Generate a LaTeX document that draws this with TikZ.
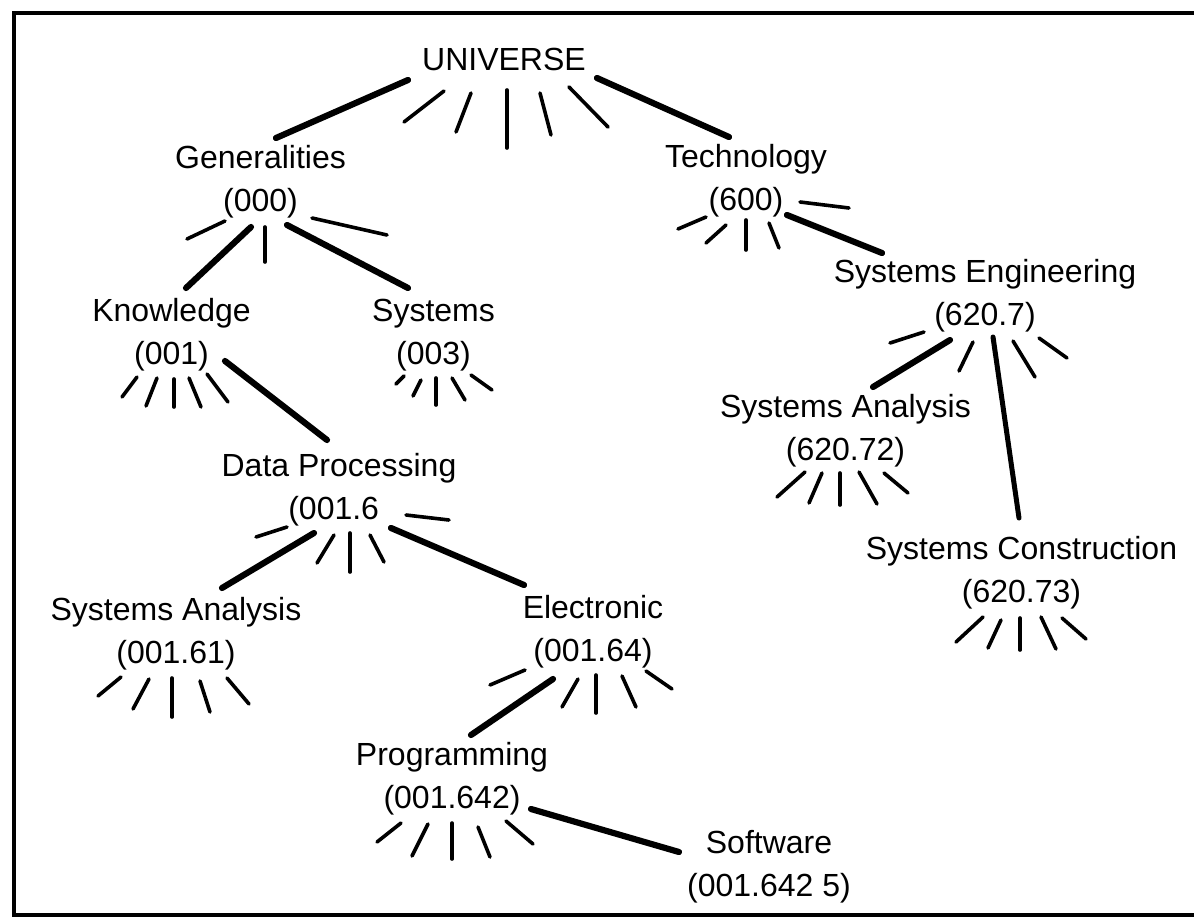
\documentclass[tikz,border=0pt]{standalone}
\usepackage{fontspec}
\setmainfont{Liberation Sans}
\usetikzlibrary{calc}

\tikzset{
  topic/.style={align=center, inner sep=0pt, font=\fontsize{32}{43}\selectfont},
  branch/.style={line width=6.2pt, line cap=round},
  twig/.style={line width=3.6pt, line cap=round},
  frameline/.style={line width=3.4pt}
}

% draws a fan of short strokes below a node: list of dx1/dy1/dx2/dy2
\newcommand{\fanout}[2]{%
  \foreach \ax/\ay/\bx/\by in {#2}
    \draw[twig] ($(#1)+(\ax,\ay)$) -- ($(#1)+(\bx,\by)$);%
}

\begin{document}
\begin{tikzpicture}[x=1pt, y=-1pt]
\useasboundingbox (0,0) rectangle (1194,919);

% open frame: top, left and bottom edges
\draw[frameline] (1194,13) -- (14,13) -- (14,915) -- (1194,915);

% topics
\node[topic] (univ)   at (504,59.5)   {UNIVERSE};
\node[topic] (gen)    at (260.5,181.5) {Generalities\\(000)};
\node[topic] (tech)   at (746,181)    {Technology\\(600)};
\node[topic] (syseng) at (985,295.5)  {Systems Engineering\\(620.7)};
\node[topic] (know)   at (171.5,335)  {Knowledge\\(001)};
\node[topic] (sys)    at (433.5,335)  {Systems\\(003)};
\node[topic] (dp)     at (339,490)    {Data Processing\\(001.6\phantom{)}};
\node[topic] (sa1)    at (176,634)    {Systems Analysis\\(001.61)};
\node[topic] (elec)   at (593,632)    {Electronic\\(001.64)};
\node[topic] (prog)   at (452,779)    {Programming\\(001.642)};
\node[topic] (soft)   at (769,866.5)  {Software\\(001.642 5)};
\node[topic] (sa2)    at (845.5,430.5) {Systems Analysis\\(620.72)};
\node[topic] (scon)   at (1021.5,573) {Systems Construction\\(620.73)};

% main branches
\draw[branch] ($(univ)+(-96,20.5)$)  -- ($(gen)+(15.5,-43.5)$);
\draw[branch] ($(univ)+(93,18.5)$)   -- ($(tech)+(-17,-44)$);
\draw[branch] ($(gen)+(-9.5,45.5)$)  -- ($(know)+(14.5,-47)$);
\draw[branch] ($(gen)+(26.5,43.5)$)  -- ($(sys)+(-25.5,-47)$);
\draw[branch] ($(tech)+(41,34)$)     -- ($(syseng)+(-103,-42.5)$);
\draw[branch] ($(know)+(53.5,26)$)   -- ($(dp)+(-12,-50)$);
\draw[branch] ($(dp)+(-25,43)$)      -- ($(sa1)+(46,-46)$);
\draw[branch] ($(dp)+(52,38)$)       -- ($(elec)+(-69,-47)$);
\draw[branch] ($(elec)+(-40,47)$)    -- ($(prog)+(19,-44)$);
\draw[branch] ($(prog)+(79,30)$)     -- ($(soft)+(-90,-14.5)$);
\draw[branch] ($(syseng)+(-35,44.5)$) -- ($(sa2)+(27.5,-43.5)$);
\draw[branch, line width=5pt] ($(syseng)+(8,41.5)$) -- ($(scon)+(-2.5,-55)$);

% unexpanded subdivisions
\fanout{univ}{-60/31.5/-100/62.5, -33/33.5/-48/72.5, 3/30.5/3/88.5, 36/33.5/47/75.5, 65/27.5/104/67.5}
\fanout{gen}{-35.5/39.5/-73.5/57.5, 4.5/45.5/4.5/80.5, 51.5/36.5/126.5/53.5}
\fanout{tech}{-40/36/-68/48, -20/44/-40/62, 0/39/0/69, 23/42/33/67, 54/21/103/27}
\fanout{syseng}{-61/36.5/-95/47.5, -12/46.5/-26/75.5, 28/45.5/50/81.5, 54/42.5/82/62.5}
\fanout{know}{-34.5/42/-49.5/62, -14.5/43/-25.5/71, 2.5/44/2.5/72, 17.5/43/29.5/72, 35.5/39/56.5/67}
\fanout{sys}{-29.5/41/-37.5/49, -12.5/45/-20.5/61, 2.5/43/2.5/70, 18.5/43/31.5/65, 37.5/40/58.5/55}
\fanout{dp}{-52/37/-83/47, -5/45/-22/73, 11/43/11/82, 31/45/45/72, 67/25/110/30}
\fanout{sa1}{-55/43/-78/62, -27/45/-43/75, -4/44/-4/83, 24/47/34/78, 51/44/73/70}
\fanout{elec}{-68/38/-103/53, -15/47/-31/75, 3/43/3/81, 29/44/43/75, 53/39/79/57}
\fanout{prog}{-51/44/-75/63, -24/45/-40/77, 0/44/0/80, 26/48/38/78, 54/42/81/65}
\fanout{sa2}{-40.5/41.5/-68.5/66.5, -23.5/42.5/-36.5/72.5, -5.5/42.5/-5.5/74.5, 13.5/41.5/31.5/73.5, 38.5/42.5/62.5/62.5}
\fanout{scon}{-38.5/44/-65.5/69, -20.5/47/-33.5/75, -1.5/45/-1.5/77, 19.5/44/34.5/76, 40.5/45/64.5/66}
\end{tikzpicture}
\end{document}
